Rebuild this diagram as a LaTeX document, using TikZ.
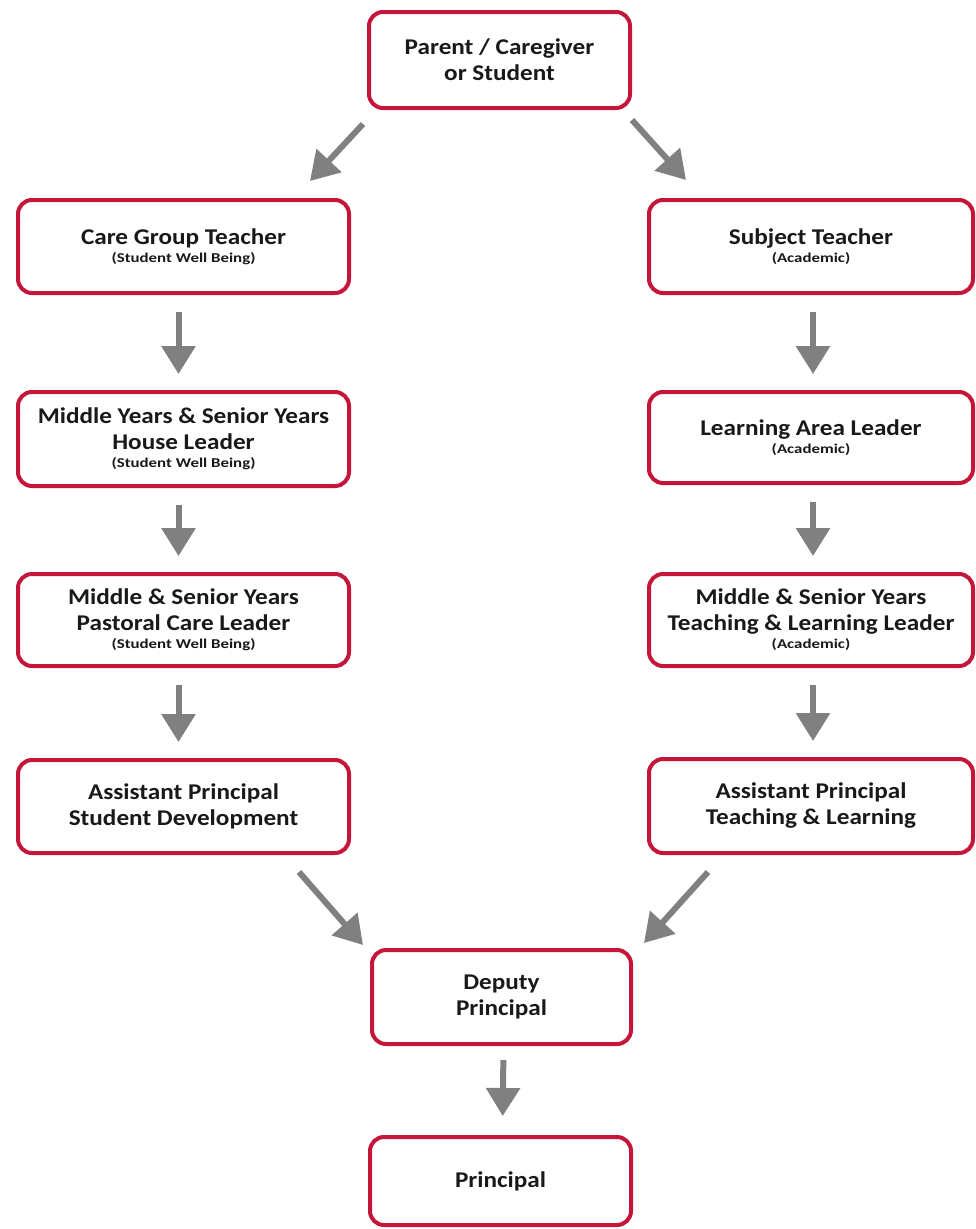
\documentclass[tikz,border=0pt]{standalone}
\usepackage{fontspec}
\setmainfont{Carlito}[FakeStretch=1.12]
\newfontfamily\subfont{Carlito}[FakeStretch=1.25]
\usetikzlibrary{arrows.meta,calc}
\definecolor{boxred}{RGB}{196,22,56}
\definecolor{arrgray}{RGB}{128,128,128}
\definecolor{txt}{RGB}{25,25,25}
\newcommand{\subl}[1]{\\[-8pt]{\subfont\bfseries\fontsize{13.5}{15}\selectfont #1}}
\begin{document}
\begin{tikzpicture}[x=1pt,y=-1pt,
  box/.style={draw=boxred, line width=4pt, rounded corners=14pt, fill=white,
    align=center, font=\fontsize{22.5}{26}\selectfont\bfseries, text=txt, inner sep=0pt},
  arr/.style={draw=arrgray, line width=6pt, -{Triangle[width=33pt,length=28pt]}},
  vgap/.style={shorten <=17pt, shorten >=16pt}]
\useasboundingbox (0,0) rectangle (976,1229);
\fill[white] (0,0) rectangle (976,1229);
% boxes
\node[box, minimum width=261pt, minimum height=96pt] (top) at (499.5,60) {Parent / Caregiver\\or Student};
\node[box, minimum width=331pt, minimum height=93pt] (care) at (183.5,246.5) {Care Group Teacher\subl{(Student Well Being)}};
\node[box, minimum width=331pt, minimum height=94pt] (house) at (183.5,439) {Middle Years \& Senior Years\\House Leader\subl{(Student Well Being)}};
\node[box, minimum width=331pt, minimum height=92pt] (past) at (183.5,620) {Middle \& Senior Years\\Pastoral Care Leader\subl{(Student Well Being)}};
\node[box, minimum width=331pt, minimum height=93pt] (apsd) at (183.5,806.5) {Assistant Principal\\Student Development};
\node[box, minimum width=324pt, minimum height=93pt] (subj) at (811,246.5) {Subject Teacher\subl{(Academic)}};
\node[box, minimum width=324pt, minimum height=91pt] (lal) at (811,437.5) {Learning Area Leader\subl{(Academic)}};
\node[box, minimum width=324pt, minimum height=92pt] (tll) at (811,620) {Middle \& Senior Years\\Teaching \& Learning Leader\subl{(Academic)}};
\node[box, minimum width=324pt, minimum height=94pt] (aptl) at (811,806) {Assistant Principal\\Teaching \& Learning};
\node[box, minimum width=259pt, minimum height=94pt] (dep) at (501.5,997) {Deputy\\Principal};
\node[box, minimum width=261pt, minimum height=88pt] (prin) at (500.5,1181) {Principal};
% diagonal arrows
\draw[arr] ([shift={(-4,14)}]top.south west) -- ([shift={(-41,-17)}]care.north east);
\draw[arr] ([shift={(0,10)}]top.south east) -- ([shift={(39,-18)}]subj.north west);
\draw[arr] ([shift={(-52,17)}]apsd.south east) -- ([shift={(-7,-3)}]dep.north west);
\draw[arr] ([shift={(61,17)}]aptl.south west) -- ([shift={(11,-5)}]dep.north east);
% vertical arrows
\draw[arr,vgap] ([xshift=-5pt]care.south) -- ([xshift=-5pt]house.north);
\draw[arr,vgap] ([xshift=-5pt]house.south) -- ([xshift=-5pt]past.north);
\draw[arr,vgap] ([xshift=-5pt]past.south) -- ([xshift=-5pt]apsd.north);
\draw[arr,vgap] ([xshift=2pt]subj.south) -- ([xshift=2pt]lal.north);
\draw[arr,vgap] ([xshift=2pt]lal.south) -- ([xshift=2pt]tll.north);
\draw[arr,vgap] ([xshift=2pt]tll.south) -- ([xshift=2pt]aptl.north);
\draw[arr,shorten <=14pt, shorten >=19pt] ([xshift=2pt]dep.south) -- ([xshift=2pt]prin.north);
\end{tikzpicture}
\end{document}
